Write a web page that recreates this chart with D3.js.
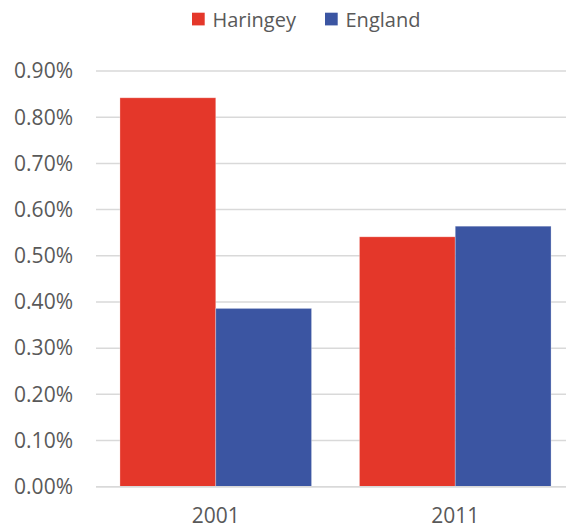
<!DOCTYPE html>
<html>
<head>
<meta charset="utf-8">
<script src="https://cdn.jsdelivr.net/npm/d3@7"></script>
<style>
  html, body { margin: 0; padding: 0; background: #fff; }
  text { font-family: "Open Sans", "Liberation Sans", sans-serif; fill: #595959; }
</style>
</head>
<body>
<div id="chart"></div>
<script>
const years = ["2001", "2011"];
const seriesNames = ["Haringey", "England"];
const haringey = [0.842, 0.541];
const england = [0.386, 0.564];
const yTicks = [0, 0.1, 0.2, 0.3, 0.4, 0.5, 0.6, 0.7, 0.8, 0.9];

const width = 566, height = 529;
const colors = ["#E4372A", "#3B55A2"];

const svg = d3.select("#chart")
    .append("svg")
    .attr("width", width)
    .attr("height", height);

const x = d3.scaleBand()
    .domain(years)
    .range([96, 575])
    .paddingInner(0.2)
    .paddingOuter(0.1);

const xSeries = d3.scaleBand()
    .domain(seriesNames)
    .range([0, x.bandwidth()]);

const y = d3.scaleLinear()
    .domain([0, 0.9])
    .range([486.7, 71]);

// gridlines
svg.append("g")
    .selectAll("line")
    .data(yTicks)
    .enter()
    .append("line")
    .attr("x1", 96)
    .attr("x2", 575)
    .attr("y1", d => y(d))
    .attr("y2", d => y(d))
    .attr("stroke", "#D9D9D9")
    .attr("stroke-width", 1.5);

// y tick labels
svg.append("g")
    .selectAll("text")
    .data(yTicks)
    .enter()
    .append("text")
    .attr("x", 73)
    .attr("y", d => y(d))
    .attr("dy", "0.35em")
    .attr("text-anchor", "end")
    .style("font-size", "21px")
    .text(d => d3.format(".2f")(d) + "%");

// bars
const table = years.map((yr, i) => ({ year: yr, values: [haringey[i], england[i]] }));

const groups = svg.append("g")
    .selectAll("g")
    .data(table)
    .enter()
    .append("g")
    .attr("transform", d => `translate(${x(d.year)},0)`);

groups.selectAll("rect")
    .data(d => d.values.map((v, j) => ({ name: seriesNames[j], value: v, idx: j })))
    .enter()
    .append("rect")
    .attr("x", d => xSeries(d.name))
    .attr("width", xSeries.bandwidth())
    .attr("y", d => y(d.value))
    .attr("height", d => y(0) - y(d.value))
    .attr("fill", d => colors[d.idx])
    .attr("stroke", "rgba(255,255,255,0.35)")
    .attr("stroke-width", 0.8);

// baseline
svg.append("line")
    .attr("x1", 96)
    .attr("x2", 575)
    .attr("y1", y(0))
    .attr("y2", y(0))
    .attr("stroke", "#D9D9D9")
    .attr("stroke-width", 1.5);

// x labels
svg.append("g")
    .selectAll("text")
    .data(years)
    .enter()
    .append("text")
    .attr("x", d => x(d) + x.bandwidth() / 2)
    .attr("y", 523)
    .attr("text-anchor", "middle")
    .style("font-size", "21px")
    .text(d => d);

// legend
const legendX = [192, 325];
const legend = svg.append("g")
    .selectAll("g")
    .data(seriesNames)
    .enter()
    .append("g")
    .attr("transform", (d, i) => `translate(${legendX[i]},0)`);

legend.append("rect")
    .attr("x", 0)
    .attr("y", 12.7)
    .attr("width", 12.7)
    .attr("height", 12.7)
    .attr("fill", (d, i) => colors[i]);

legend.append("text")
    .attr("x", 20.5)
    .attr("y", 26.5)
    .style("font-size", "20px")
    .text(d => d);
</script>
</body>
</html>
